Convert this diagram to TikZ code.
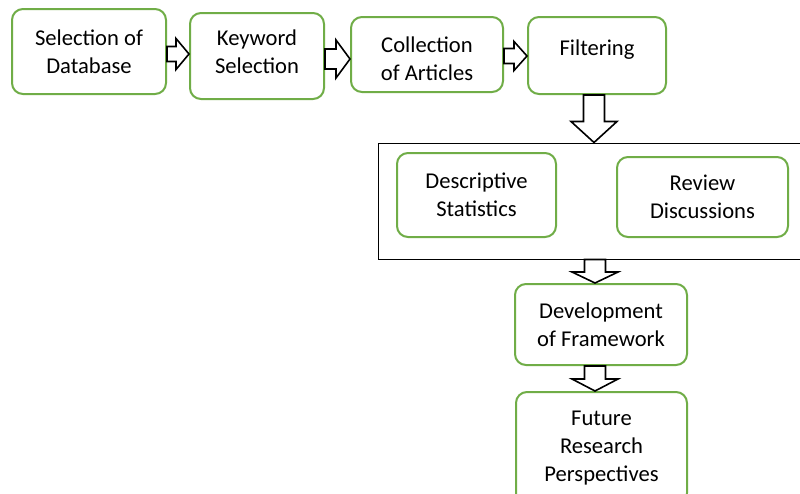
\documentclass[tikz,border=0pt]{standalone}
\usepackage{fontspec}
\setmainfont{Carlito}
\usetikzlibrary{calc}
\definecolor{boxgreen}{RGB}{112,173,71}
\tikzset{
  stepbox/.style={draw=boxgreen, line width=2pt, rounded corners=11pt, fill=white,
    align=center, inner sep=0pt, font=\fontsize{22.6}{27.6}\selectfont},
  steplabel/.style={align=center, inner sep=0pt, font=\fontsize{22.6}{27.6}\selectfont},
  outerbox/.style={draw=black, line width=1pt, inner sep=0pt},
  barrow/.style={draw=black, fill=white, line width=1.6pt, line join=miter}
}
% #1 from, #2 to, #3 centre y, #4 shaft half width, #5 head half width, #6 head length
\newcommand{\harr}[6]{%
  \draw[barrow] let \p1=(#1.east), \p2=(#2.west), \p3=(0,#3) in
    (\x1,\y3+#4pt) -- (\x2-#6pt,\y3+#4pt) -- (\x2-#6pt,\y3+#5pt) -- (\x2,\y3)
    -- (\x2-#6pt,\y3-#5pt) -- (\x2-#6pt,\y3-#4pt) -- (\x1,\y3-#4pt) -- cycle;}
\newcommand{\varr}[4]{%
  \draw[barrow] let \p1=(#1.south), \p2=(#2.north), \p3=(#3,0) in
    (\x3-10.5pt,\y1) -- (\x3-10.5pt,\y2+#4pt) -- (\x3-23pt,\y2+#4pt) -- (\x3,\y2)
    -- (\x3+23pt,\y2+#4pt) -- (\x3+10.5pt,\y2+#4pt) -- (\x3+10.5pt,\y1) -- cycle;}
\begin{document}
\begin{tikzpicture}[x=1pt,y=-1pt]
\clip (0,0) rectangle (800,493);
\fill[white] (0,0) rectangle (800,493);
\node[stepbox, minimum width=154pt, minimum height=85pt] (db) at (89,51.5) {Selection of\\Database};
\node[stepbox, minimum width=134pt, minimum height=86pt,
  label={[steplabel, yshift=4pt]center:Keyword\\Selection}] (kw) at (257,56) {};
\node[stepbox, minimum width=152pt, minimum height=75pt,
  label={[steplabel, yshift=-4pt]center:Collection\\of Articles}] (col) at (427,54.5) {};
\node[stepbox, minimum width=138pt, minimum height=77pt, inner sep=4pt, text height=34pt, text depth=35pt] (fil) at (597,55.5) {Filtering};
\node[outerbox, minimum width=423pt, minimum height=116pt] (outer) at (589.5,201) {};
\node[stepbox, minimum width=159pt, minimum height=84pt] (desc) at (476.5,195) {Descriptive\\Statistics};
\node[stepbox, minimum width=171pt, minimum height=80pt] (rev) at (702.5,197) {Review\\Discussions};
\node[stepbox, minimum width=172pt, minimum height=81pt] (dev) at (601,324.5) {Development\\of Framework};
\node[stepbox, minimum width=171pt, minimum height=112pt] (fut) at (601.5,448) {Future\\Research\\Perspectives};
\harr{db}{kw}{54}{7.5}{15.5}{13}
\harr{kw}{col}{59}{10}{19}{14}
\harr{col}{fil}{56}{7.5}{14.5}{13}
\varr{fil}{outer}{594}{21}
\varr{outer}{dev}{595}{11}
\varr{dev}{fut}{595}{12}
\end{tikzpicture}
\end{document}
